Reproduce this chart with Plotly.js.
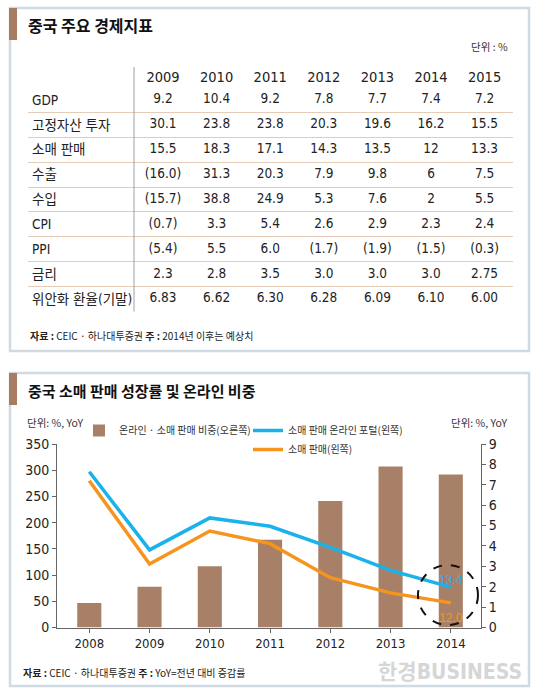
<!DOCTYPE html>
<html><head><meta charset="utf-8">
<script src="https://cdn.plot.ly/plotly-3.0.1.min.js"></script>
<style>html,body{margin:0;padding:0;background:#fff;}#chart{width:540px;height:698px;}</style>
</head><body><div id="chart"></div>
<script>
// ---------- Table data ----------
const tableYears = ['2009','2010','2011','2012','2013','2014','2015'];
const tableRowLabels = ['GDP','고정자산 투자','소매 판매','수출','수입','CPI','PPI','금리','위안화 환율(기말)'];
const gdp = ['9.2','10.4','9.2','7.8','7.7','7.4','7.2'];
const fixedAssetInvestment = ['30.1','23.8','23.8','20.3','19.6','16.2','15.5'];
const retailSalesTable = ['15.5','18.3','17.1','14.3','13.5','12','13.3'];
const exportsGrowth = ['-16.0','31.3','20.3','7.9','9.8','6','7.5'];
const importsGrowth = ['-15.7','38.8','24.9','5.3','7.6','2','5.5'];
const cpi = ['-0.7','3.3','5.4','2.6','2.9','2.3','2.4'];
const ppi = ['-5.4','5.5','6.0','-1.7','-1.9','-1.5','-0.3'];
const interestRate = ['2.3','2.8','3.5','3.0','3.0','3.0','2.75'];
const cnyRate = ['6.83','6.62','6.30','6.28','6.09','6.10','6.00'];

// ---------- Chart data ----------
const chartYears = ['2008','2009','2010','2011','2012','2013','2014'];
const onlineShare = [1.2, 2.0, 3.0, 4.3, 6.2, 7.9, 7.5];           // right axis
const onlinePortalGrowth = [297, 148, 209, 193, 153, 109, 77];      // left axis
const retailSalesGrowth = [280, 121, 184, 160, 95, 66, 47];         // left axis
const endLabels = ['13.4', '12.0'];

const W = 540, H = 698;
const px = v => v / W;
const py = v => 1 - v / H;

const NUM = '"Liberation Sans Narrow", "Arial Narrow", "DejaVu Sans Condensed", "Noto Sans CJK KR", sans-serif';
const KR = '"Noto Sans CJK KR", "Liberation Sans Narrow", sans-serif';

const BROWN = '#a88068';
const BLUE = '#19b2ea';
const ORANGE = '#f7941e';

function fmt(s) { return s.charAt(0) === '-' ? '(' + s.slice(1) + ')' : s; }

const tableRows = [gdp, fixedAssetInvestment, retailSalesTable, exportsGrowth, importsGrowth, cpi, ppi, interestRate, cnyRate];
const tx = [], ty = [], tt = [];
tableRows.forEach((row, r) => {
  row.forEach((v, c) => { tx.push(tableYears[c]); ty.push(tableRowLabels[r]); tt.push(fmt(v)); });
});

const last = chartYears.length - 1;

const traces = [
  {
    type: 'scatter', mode: 'text', x: tx, y: ty, text: tt, xaxis: 'x', yaxis: 'y',
    textfont: {family: NUM, size: 13.5, color: '#222'}, textposition: 'middle center',
    hoverinfo: 'skip', showlegend: false, cliponaxis: false
  },
  {
    type: 'bar', x: chartYears, y: onlineShare, xaxis: 'x2', yaxis: 'y2',
    name: '온라인 · 소매 판매 비중(오른쪽)', marker: {color: BROWN, line: {width: 0}},
    width: 0.4, legend: 'legend', hoverinfo: 'skip'
  },
  {
    type: 'scatter', mode: 'lines', x: chartYears, y: onlinePortalGrowth, xaxis: 'x2', yaxis: 'y3',
    name: '소매 판매 온라인 포털(왼쪽)', line: {color: BLUE, width: 3.5}, legend: 'legend2', hoverinfo: 'skip'
  },
  {
    type: 'scatter', mode: 'lines', x: chartYears, y: retailSalesGrowth, xaxis: 'x2', yaxis: 'y3',
    name: '소매 판매(왼쪽)', line: {color: ORANGE, width: 3.5}, legend: 'legend3', hoverinfo: 'skip'
  },
  {
    type: 'scatter', mode: 'text', x: [chartYears[last]], y: [onlinePortalGrowth[last]], text: [endLabels[0]],
    xaxis: 'x2', yaxis: 'y3', textposition: 'top center', showlegend: false, hoverinfo: 'skip', cliponaxis: false,
    textfont: {family: 'Liberation Sans, Arial, sans-serif', size: 12, color: BLUE}
  },
  {
    type: 'scatter', mode: 'markers+text', x: [chartYears[last]], y: [retailSalesGrowth[last]], text: [endLabels[1]],
    xaxis: 'x2', yaxis: 'y3', textposition: 'bottom center', showlegend: false, hoverinfo: 'skip', cliponaxis: false,
    marker: {size: 14, color: 'rgba(0,0,0,0)'},
    textfont: {family: 'Liberation Sans, Arial, sans-serif', size: 12, color: ORANGE}
  }
];

const axisFont = {family: NUM, size: 14, color: '#222'};
const legendFont = {family: KR, size: 10, color: '#333'};

const layout = {
  width: W, height: H,
  margin: {l: 0, r: 0, t: 0, b: 0},
  paper_bgcolor: '#fff', plot_bgcolor: 'rgba(0,0,0,0)',
  hovermode: false,
  // ---- table axes ----
  xaxis: {
    type: 'category', categoryarray: tableYears, domain: [px(28), px(513)],
    range: [-2.519, 6.53], side: 'top', anchor: 'y', showgrid: false, showline: false,
    zeroline: false, ticks: '', tickfont: {family: NUM, size: 14.5, color: '#222'}, ticklabelstandoff: 2,
    fixedrange: true
  },
  yaxis: {
    type: 'category', categoryarray: tableRowLabels, domain: [py(311.5), py(87.5)],
    range: [8.5, -0.5], anchor: 'free', position: px(28), side: 'right',
    tickson: 'boundaries', showgrid: true, gridcolor: '#e6cbb6', gridwidth: 1,
    showline: false, zeroline: false, ticks: '', ticklabelstandoff: 3,
    tickfont: {family: NUM, size: 13.5, color: '#222'}, fixedrange: true
  },
  // ---- chart axes ----
  xaxis2: {
    type: 'category', categoryarray: chartYears, domain: [px(57), px(481)],
    range: [-0.536, 6.501], anchor: 'y2', showgrid: false, zeroline: false,
    showline: true, linecolor: '#666', linewidth: 1, ticks: 'outside', ticklen: 4,
    tickcolor: '#666', tickfont: {family: NUM, size: 13, color: '#222'}, fixedrange: true
  },
  yaxis2: {
    domain: [py(627.5), py(444)], range: [0, 9], dtick: 1, anchor: 'x2', side: 'right',
    showgrid: false, zeroline: false, showline: true, linecolor: '#666', linewidth: 1,
    ticks: 'outside', ticklen: 4, tickcolor: '#666', tickfont: axisFont, fixedrange: true
  },
  yaxis3: {
    overlaying: 'y2', side: 'left', anchor: 'x2', range: [0, 350], dtick: 50,
    showgrid: false, zeroline: false, showline: true, linecolor: '#666', linewidth: 1,
    ticks: 'outside', ticklen: 4, tickcolor: '#666', tickfont: axisFont, fixedrange: true
  },
  showlegend: true,
  legend: {
    orientation: 'h', x: px(79), y: py(416), xanchor: 'left', yanchor: 'top',
    font: legendFont, bgcolor: 'rgba(0,0,0,0)', itemclick: false
  },
  legend2: {
    orientation: 'h', x: px(248), y: py(416), xanchor: 'left', yanchor: 'top',
    font: legendFont, bgcolor: 'rgba(0,0,0,0)', itemclick: false
  },
  legend3: {
    orientation: 'h', x: px(248), y: py(435), xanchor: 'left', yanchor: 'top',
    font: legendFont, bgcolor: 'rgba(0,0,0,0)', itemclick: false
  },
  shapes: [
    // panels
    {type: 'rect', xref: 'paper', yref: 'paper', x0: px(10), x1: px(529), y0: py(8), y1: py(351),
     line: {color: '#cfdae2', width: 2.5}, fillcolor: 'rgba(0,0,0,0)', layer: 'below'},
    {type: 'rect', xref: 'paper', yref: 'paper', x0: px(10), x1: px(529), y0: py(373), y1: py(686),
     line: {color: '#cfdae2', width: 2.5}, fillcolor: 'rgba(0,0,0,0)', layer: 'below'},
    // title accent bars
    {type: 'rect', xref: 'paper', yref: 'paper', x0: px(9), x1: px(17), y0: py(8), y1: py(40),
     line: {width: 0}, fillcolor: '#a67c62'},
    {type: 'rect', xref: 'paper', yref: 'paper', x0: px(9), x1: px(17), y0: py(373), y1: py(405),
     line: {width: 0}, fillcolor: '#a67c62'},
    // table vertical separator
    {type: 'line', xref: 'paper', yref: 'paper', x0: px(134), x1: px(134), y0: py(67), y1: py(311.5),
     line: {color: '#a0a0a0', width: 1}},
    // dashed highlight circle around the 2014 values
    {type: 'circle', xref: 'paper', yref: 'paper', x0: px(418), x1: px(478), y0: py(625), y1: py(565),
     line: {color: '#111', width: 2, dash: 'dash'}, fillcolor: 'rgba(0,0,0,0)'}
  ],
  annotations: [
    {text: '<b>중국 주요 경제지표</b>', xref: 'paper', yref: 'paper', x: px(26), y: py(25),
     xanchor: 'left', yanchor: 'middle', showarrow: false, font: {family: KR, size: 16, color: '#111'}},
    {text: '단위 : %', xref: 'paper', yref: 'paper', x: px(510), y: py(47),
     xanchor: 'right', yanchor: 'middle', showarrow: false, font: {family: KR, size: 10.5, color: '#333'}},
    {text: '<b>자료 :</b> CEIC · 하나대투증권 <b>주 :</b> 2014년 이후는 예상치', xref: 'paper', yref: 'paper',
     x: px(28), y: py(335), xanchor: 'left', yanchor: 'middle', showarrow: false,
     font: {family: KR, size: 10, color: '#222'}},
    {text: '<b>중국 소매 판매 성장률 및 온라인 비중</b>', xref: 'paper', yref: 'paper', x: px(26), y: py(390),
     xanchor: 'left', yanchor: 'middle', showarrow: false, font: {family: KR, size: 15, color: '#111'}},
    {text: '단위: %, YoY', xref: 'paper', yref: 'paper', x: px(25), y: py(422),
     xanchor: 'left', yanchor: 'middle', showarrow: false, font: {family: KR, size: 10.5, color: '#333'}},
    {text: '단위: %, YoY', xref: 'paper', yref: 'paper', x: px(509), y: py(422),
     xanchor: 'right', yanchor: 'middle', showarrow: false, font: {family: KR, size: 10.5, color: '#333'}},
    {text: '<b>자료 :</b> CEIC · 하나대투증권 <b>주 :</b> YoY=전년 대비 증감률', xref: 'paper', yref: 'paper',
     x: px(21), y: py(672), xanchor: 'left', yanchor: 'middle', showarrow: false,
     font: {family: KR, size: 10, color: '#222'}},
    {text: '<b>한경BUSINESS</b>', xref: 'paper', yref: 'paper', x: px(524), y: py(672),
     xanchor: 'right', yanchor: 'middle', showarrow: false, font: {family: NUM, size: 21, color: '#d6d6d6'}}
  ]
};

Plotly.newPlot('chart', traces, layout, {staticPlot: true, displayModeBar: false});
</script>
</body></html>
